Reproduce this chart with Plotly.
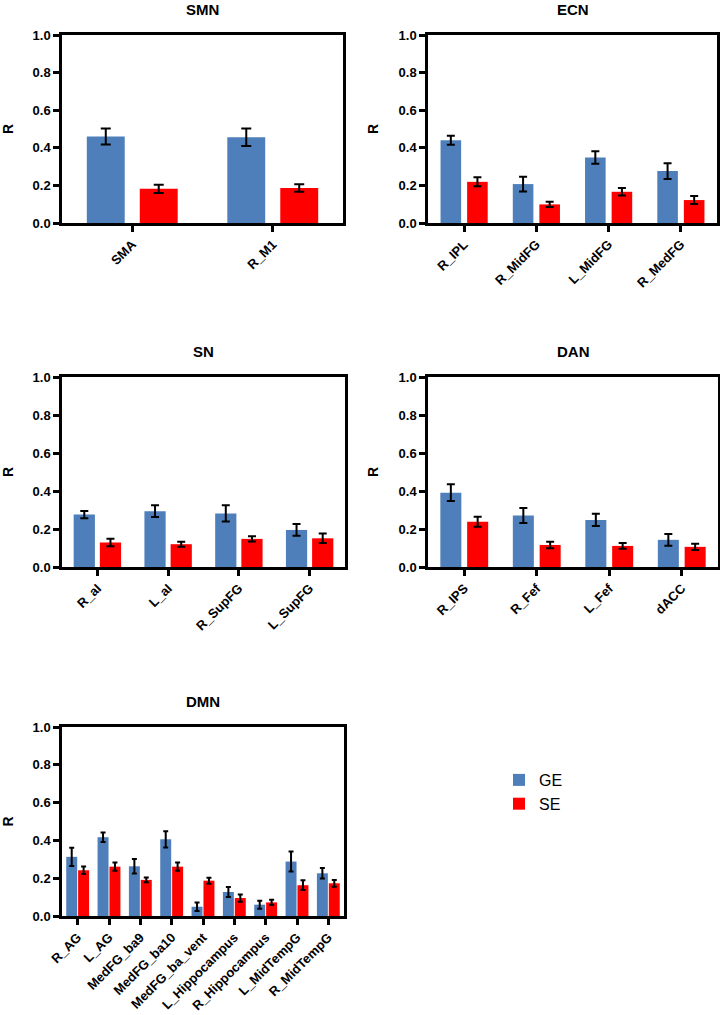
import plotly.graph_objects as go

W, H = 720, 1015
FONT = "Liberation Sans, Arial, Helvetica, sans-serif"
GE_COLOR = "#4F7FBB"
SE_COLOR = "#FF0000"

# --- data (mean R and error bar half-length) ---
smn_regions = ["SMA", "R_M1"]
smn_ge = [0.460, 0.456]
smn_ge_err = [0.043, 0.047]
smn_se = [0.182, 0.186]
smn_se_err = [0.022, 0.020]

ecn_regions = ["R_IPL", "R_MidFG", "L_MidFG", "R_MedFG"]
ecn_ge = [0.440, 0.207, 0.348, 0.276]
ecn_ge_err = [0.024, 0.039, 0.033, 0.042]
ecn_se = [0.219, 0.099, 0.166, 0.122]
ecn_se_err = [0.024, 0.014, 0.020, 0.021]

sn_regions = ["R_aI", "L_aI", "R_SupFG", "L_SupFG"]
sn_ge = [0.276, 0.294, 0.282, 0.195]
sn_ge_err = [0.019, 0.031, 0.043, 0.031]
sn_se = [0.129, 0.120, 0.148, 0.151]
sn_se_err = [0.020, 0.013, 0.014, 0.025]

dan_regions = ["R_IPS", "R_Fef", "L_Fef", "dACC"]
dan_ge = [0.391, 0.271, 0.248, 0.143]
dan_ge_err = [0.044, 0.040, 0.032, 0.031]
dan_se = [0.238, 0.116, 0.111, 0.106]
dan_se_err = [0.026, 0.017, 0.015, 0.016]

dmn_regions = ["R_AG", "L_AG", "MedFG_ba9", "MedFG_ba10", "MedFG_ba_vent",
               "L_Hippocampus", "R_Hippocampus", "L_MidTempG", "R_MidTempG"]
dmn_ge = [0.313, 0.417, 0.263, 0.406, 0.049, 0.127, 0.060, 0.288, 0.226]
dmn_ge_err = [0.048, 0.025, 0.038, 0.043, 0.022, 0.027, 0.021, 0.053, 0.028]
dmn_se = [0.242, 0.261, 0.191, 0.261, 0.187, 0.095, 0.072, 0.163, 0.173]
dmn_se_err = [0.020, 0.022, 0.013, 0.022, 0.016, 0.019, 0.014, 0.026, 0.018]

# panel boxes in page pixels (x0, x1, y_top, y_bottom), bar width / inner gap in category units, cap half width
panels = [
    ("SMN", smn_regions, smn_ge, smn_ge_err, smn_se, smn_se_err, (62, 343, 35, 223), 0.27, 0.107, 5),
    ("ECN", ecn_regions, ecn_ge, ecn_ge_err, ecn_se, ecn_se_err, (428, 717, 35, 223), 0.285, 0.083, 4),
    ("SN", sn_regions, sn_ge, sn_ge_err, sn_se, sn_se_err, (62, 345, 377, 567), 0.30, 0.07, 4),
    ("DAN", dan_regions, dan_ge, dan_ge_err, dan_se, dan_se_err, (428, 718, 377, 567), 0.29, 0.08, 4),
    ("DMN", dmn_regions, dmn_ge, dmn_ge_err, dmn_se, dmn_se_err, (62, 344, 727, 916), 0.35, 0.03, 2.5),
]


def px_x(x):
    return x / W


def px_y(y):
    return 1 - y / H


fig = go.Figure()
annotations = []
layout_axes = {}

for i, (name, regions, ge, ge_err, se, se_err, box, bw, gap, cap) in enumerate(panels, start=1):
    x0, x1, yt, yb = box
    sfx = "" if i == 1 else str(i)
    xa, ya = "x" + sfx, "y" + sfx
    common = dict(
        x=regions, width=[bw] * len(regions), xaxis=xa, yaxis=ya,
        marker_line_width=0,
    )
    fig.add_trace(go.Bar(
        y=ge, name="GE", marker_color=GE_COLOR, offset=-(bw + gap / 2),
        error_y=dict(type="data", array=ge_err, color="black", thickness=2, width=cap),
        showlegend=(i == 1), **common))
    fig.add_trace(go.Bar(
        y=se, name="SE", marker_color=SE_COLOR, offset=gap / 2,
        error_y=dict(type="data", array=se_err, color="black", thickness=2, width=cap),
        showlegend=(i == 1), **common))

    layout_axes["xaxis" + sfx] = dict(
        domain=[px_x(x0), px_x(x1)], anchor=ya, type="category", automargin=False,
        showline=True, linecolor="black", linewidth=2.5, mirror=True,
        ticks="outside", ticklen=6, tickwidth=2.5, tickcolor="black",
        tickangle=-45, showgrid=False, zeroline=False,
        tickfont=dict(family=FONT, size=13, color="black", weight="bold"),
    )
    layout_axes["yaxis" + sfx] = dict(
        domain=[px_y(yb), px_y(yt)], anchor=xa, range=[0, 1], automargin=False,
        tickvals=[0, 0.2, 0.4, 0.6, 0.8, 1.0], ticktext=["0.0", "0.2", "0.4", "0.6", "0.8", "1.0"],
        showline=True, linecolor="black", linewidth=2.5, mirror=True,
        ticks="outside", ticklen=6, tickwidth=2.5, tickcolor="black",
        showgrid=False, zeroline=False,
        tickfont=dict(family=FONT, size=13, color="black", weight="bold"),
        title=dict(text="R", standoff=17,
                   font=dict(family=FONT, size=14, color="black", weight="bold")),
    )
    annotations.append(dict(
        text=name, x=px_x((x0 + x1) / 2), y=px_y(yt - 26), xref="paper", yref="paper",
        xanchor="center", yanchor="middle", showarrow=False,
        font=dict(family=FONT, size=15, color="black", weight="bold"),
    ))

fig.update_layout(
    width=W, height=H,
    margin=dict(l=0, r=0, t=0, b=0),
    paper_bgcolor="white", plot_bgcolor="white",
    barmode="group", bargap=0.26,
    annotations=annotations,
    showlegend=True,
    legend=dict(x=px_x(499), y=px_y(763), xanchor="left", yanchor="top",
                font=dict(family=FONT, size=16, color="black"),
                bgcolor="rgba(0,0,0,0)", tracegroupgap=4),
    **layout_axes,
)

# drop the default page margin so the 720x1015 figure fills the window exactly
fig.write_html("out.html", config={"displayModeBar": False},
               post_script="document.body.style.margin = '0';")
